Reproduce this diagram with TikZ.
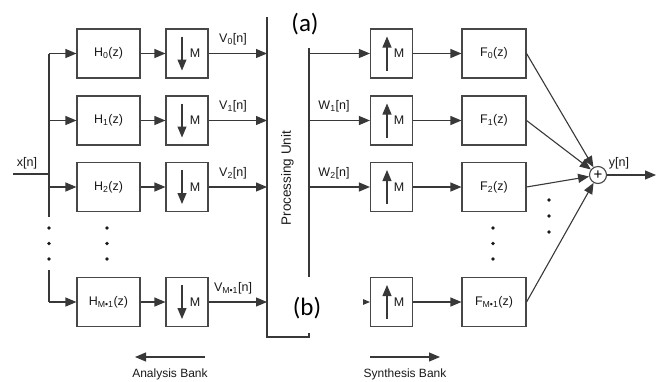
\documentclass[tikz,border=0pt]{standalone}
\usepackage{fontspec}
\setmainfont{Liberation Sans}
\newfontfamily\lblfont{Carlito}
\usetikzlibrary{arrows.meta,calc}
\begin{document}
\begin{tikzpicture}[x=1pt,y=-1pt,
  ln/.style={draw=black!78,line width=1.1pt},
  arr/.style={ln,-{Triangle[length=11pt,width=9pt]}},
  blk/.style={draw=black!72,line width=1.1pt,minimum height=49pt,inner sep=0pt,text=black!90,font=\fontsize{12.5}{14}\selectfont},
  hbox/.style={blk,minimum width=63pt},
  mbox/.style={blk,minimum width=42pt},
  txt/.style={font=\fontsize{12.5}{14}\selectfont,inner sep=0pt,text=black!90},
  dotn/.style={fill=black!90,circle,inner sep=0pt,minimum size=3.8pt},
  big/.style={font=\lblfont\fontsize{25}{28}\selectfont,inner sep=0pt}]
\useasboundingbox (0,0) rectangle (660,381);

% input and bus
\coordinate (xin) at (13,174);
\coordinate (xj) at (49,174);
\coordinate (b0) at (49,53.5);
\coordinate (g1) at (49,217);
\coordinate (g2) at (49,270);
\coordinate (b3) at (49,302);
\draw[ln] (xin) -- (xj);
\node[txt] (xlbl) at (27,163) {x[n]};
\draw[ln] (b0) -- (g1);
\draw[ln] (g2) -- (b3);
\foreach \yy in {228,243.5,259} {
  \node[dotn] at (49,\yy) {};
  \node[dotn] at (107,\yy) {};
  \node[dotn] at (493,\yy) {};
}
\foreach \yy in {200,216,232} \node[dotn] at (549,\yy) {};

% processing unit
\coordinate (pul) at (267,0);
\coordinate (pur) at (309,0);
\draw[ln] (267,17) -- (267,337) -- (309,337) -- (309,17);
\node[txt,rotate=90,font=\fontsize{13.5}{15}\selectfont] (pu) at (287.5,178) {Processing Unit};

% rows
\foreach \i/\y/\s in {0/53.5/0, 1/120.5/1, 2/187/2, 3/302/{M•1}} {
  \node[hbox] (h\i) at (108.5,\y) {H\textsubscript{\s}(z)};
  \node[mbox] (d\i) at (187,\y) {\hspace{16pt}M};
  \node[mbox] (u\i) at (391.5,\y) {\hspace{15pt}M};
  \node[hbox,minimum width=64pt] (f\i) at (494,\y) {F\textsubscript{\s}(z)};
  \draw[arr] (h\i.west -| b0) -- (h\i.west);
  \draw[arr] (h\i) -- (d\i);
  \draw[arr] (d\i.east) -- (d\i.east -| pul);
  \draw[arr] (u\i.west -| pur) -- (u\i.west);
  \draw[arr] (u\i) -- (f\i);
  \draw[arr] ($(d\i.center)+(-5,-17)$) -- ($(d\i.center)+(-5,17)$);
  \draw[arr] ($(u\i.center)+(-4.5,17)$) -- ($(u\i.center)+(-4.5,-17)$);
  \node[txt,anchor=south] (v\i) at (233,\y-8) {V\textsubscript{\s}[n]};
}
\node[txt,anchor=south] (w1) at (334,112.5) {W\textsubscript{1}[n]};
\node[txt,anchor=south] (w2) at (334,179) {W\textsubscript{2}[n]};

% summation
\node[circle,draw=black!72,line width=1.1pt,minimum size=17pt,inner sep=0pt] (sum) at (598,175) {\fontsize{15}{15}\selectfont +};
\coordinate (yout) at (656,175);
\draw[arr] (sum) -- (yout);
\node[txt] (ylbl) at (619,163) {y[n]};
\foreach \i in {0,...,3} \draw[arr] (f\i.east) -- (sum);

% overlaid labels
\fill[white] (279,3) rectangle (362,48);
\fill[white] (279,277) rectangle (363,333);
\node[big] (la) at (305,24) {(a)};
\node[big] (lb) at (307,308) {(b)};

% bank arrows
\coordinate (ana1) at (205,357);
\coordinate (ana2) at (135,357);
\draw[arr] (ana1) -- (ana2);
\node[txt,font=\fontsize{12}{14}\selectfont] (anat) at (170,374) {Analysis Bank};
\coordinate (syn1) at (370,357);
\coordinate (syn2) at (440,357);
\draw[arr] (syn1) -- (syn2);
\node[txt,font=\fontsize{12}{14}\selectfont] (synt) at (405,374) {Synthesis Bank};
\end{tikzpicture}
\end{document}
